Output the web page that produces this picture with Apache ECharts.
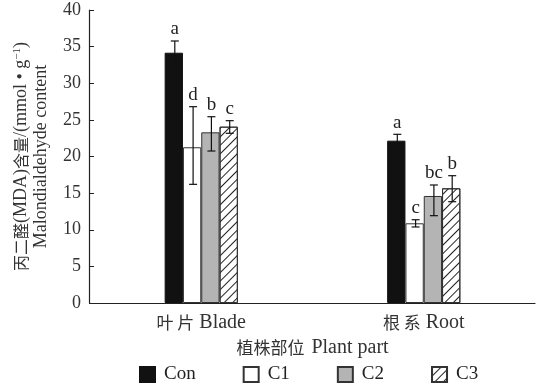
<!DOCTYPE html>
<html>
<head>
<meta charset="utf-8">
<script src="https://cdn.jsdelivr.net/npm/echarts@6/dist/echarts.min.js"></script>
<style>html,body{margin:0;padding:0;background:#fff}#c{width:543px;height:386px}</style>
</head>
<body>
<div id="c"></div>
<script>
var categories = ['叶片 Blade', '根系 Root'];
var seriesNames = ['Con', 'C1', 'C2', 'C3'];
var conValues = [34.17, 22.16];
var c1Values = [21.26, 10.88];
var c2Values = [23.3, 14.61];
var c3Values = [24.07, 15.66];
var conUpper = [35.77, 23.03], conLower = [32.6, 21.3];
var c1Upper = [26.8, 11.37], c1Lower = [16.2, 10.38];
var c2Upper = [25.43, 16.11], c2Lower = [20.75, 11.92];
var c3Upper = [24.89, 17.38], c3Lower = [23.17, 13.83];
var conLetters = ['a', 'a'];
var c1Letters = ['d', 'c'];
var c2Letters = ['b', 'bc'];
var c3Letters = ['c', 'b'];
var yTicks = [0, 5, 10, 15, 20, 25, 30, 35, 40];

var FONT = "'Liberation Serif', 'Noto Sans CJK SC', serif";
var CJK = "'Noto Sans CJK SC', 'Liberation Serif', serif";
var BW = 18.3;
var values = [conValues, c1Values, c2Values, c3Values];
var uppers = [conUpper, c1Upper, c2Upper, c3Upper];
var lowers = [conLower, c1Lower, c2Lower, c3Lower];
var letters = [conLetters, c1Letters, c2Letters, c3Letters];

var styles = [
  {color: '#111', borderColor: '#111', borderWidth: 1},
  {color: '#fff', borderColor: '#333', borderWidth: 1},
  {color: '#b4b4b4', borderColor: '#333', borderWidth: 1},
  {color: '#fff', borderColor: '#333', borderWidth: 1,
   decal: {symbol: 'rect', symbolSize: 1, color: '#222', dashArrayX: [1, 0], dashArrayY: [1, 4.5], rotation: -Math.PI / 4}}
];

var errData = [];
for (var s = 0; s < 4; s++) {
  for (var c = 0; c < categories.length; c++) {
    errData.push([c, s, lowers[s][c], uppers[s][c]]);
  }
}

var series = seriesNames.map(function (n, i) {
  return {
    name: n, type: 'bar', data: values[i], barWidth: BW, barGap: '0%',
    itemStyle: styles[i], emphasis: {disabled: true}
  };
});
series.push({
  type: 'custom',
  data: errData,
  encode: {x: 0, y: [2, 3]},
  z: 10,
  silent: true,
  renderItem: function (params, api) {
    var c = api.value(0), s = api.value(1);
    var lo = api.coord([c, api.value(2)]);
    var hi = api.coord([c, api.value(3)]);
    var x = lo[0] + (s - 1.5) * BW + 1;
    var cap = 4;
    var col = '#111';
    return {
      type: 'group',
      children: [
        {type: 'line', shape: {x1: x, y1: lo[1], x2: x, y2: hi[1]}, style: {stroke: col, lineWidth: 1.2}},
        {type: 'line', shape: {x1: x - cap, y1: hi[1], x2: x + cap, y2: hi[1]}, style: {stroke: col, lineWidth: 1.2}},
        {type: 'line', shape: {x1: x - cap, y1: lo[1], x2: x + cap, y2: lo[1]}, style: {stroke: col, lineWidth: 1.2}},
        {type: 'text', x: x, y: hi[1] - 2, style: {text: letters[s][c], font: '19px ' + FONT, fill: '#222', align: 'center', verticalAlign: 'bottom'}}
      ]
    };
  }
});

var chart = echarts.init(document.getElementById('c'));
chart.setOption({
  animation: false,
  grid: {left: 90, right: 8, top: 10, bottom: 83},
  legend: {
    data: seriesNames, left: 139, top: 365, padding: 0, itemWidth: 15, itemHeight: 15, itemGap: 47,
    icon: 'rect', selectedMode: false,
    textStyle: {fontFamily: FONT, fontSize: 19, color: '#222', padding: [0, 0, 0, 4]}
  },
  xAxis: {
    type: 'category', data: categories,
    axisLine: {lineStyle: {color: '#222', width: 1.2}},
    axisTick: {show: false},
    axisLabel: {fontFamily: FONT, fontSize: 20, color: '#333', margin: 10,
      formatter: function (v) { var p = v.split(' '); return '{cjk|' + p[0].split('').join(' ') + '} ' + p[1]; },
      rich: {cjk: {fontFamily: CJK, fontSize: 17, color: '#333'}}},
    name: '{cjk|植株部位} Plant part', nameLocation: 'middle', nameGap: 34,
    nameTextStyle: {fontFamily: FONT, fontSize: 20, color: '#333',
      rich: {cjk: {fontFamily: CJK, fontSize: 17, color: '#333', padding: [0, 2, 0, 0]}}}
  },
  yAxis: {
    type: 'value', min: 0, max: 40, interval: 5, offset: 1,
    axisLine: {show: true, lineStyle: {color: '#222', width: 1.2}},
    axisTick: {show: true, inside: true, length: 5, lineStyle: {color: '#222'}},
    splitLine: {show: false},
    axisLabel: {fontFamily: FONT, fontSize: 18, color: '#333', margin: 8,
      formatter: function (v) { return yTicks.indexOf(v) >= 0 ? String(v) : ''; }},
    name: '{cjk|丙二醛}{t|(MDA)}{cjk|含量}{t|/(mmol • g}{sup|−1}{t|)}\n{t|Malondialdehyde content}',
    nameLocation: 'middle', nameRotate: 90, nameGap: 38,
    nameTextStyle: {fontFamily: FONT, fontSize: 18, color: '#333', lineHeight: 20,
      rich: {
        t: {fontFamily: FONT, fontSize: 18, color: '#333', lineHeight: 20},
        cjk: {fontFamily: CJK, fontSize: 16, color: '#333', lineHeight: 20},
        sup: {fontFamily: FONT, fontSize: 11, color: '#333', lineHeight: 20, padding: [0, 0, 8, 0]}
      }}
  },
  series: series
});
</script>
</body>
</html>
